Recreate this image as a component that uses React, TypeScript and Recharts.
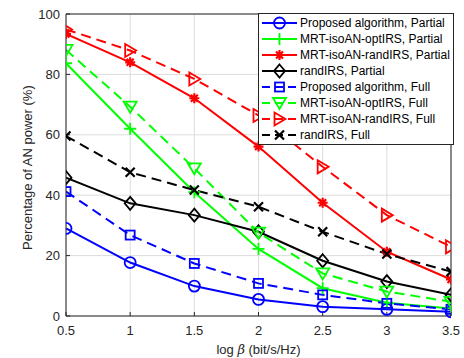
import React from "react";
import { LineChart, Line, XAxis, YAxis, CartesianGrid, ReferenceLine } from "recharts";

const beta = [0.5, 1, 1.5, 2, 2.5, 3, 3.5];
const propPartial = [29.0, 17.7, 9.9, 5.5, 3.1, 2.2, 1.4];
const optPartial = [83.7, 62.0, 41.0, 22.2, 9.2, 4.4, 2.5];
const randPartial = [93.4, 84.0, 72.1, 56.1, 37.5, 21.3, 12.1];
const randIrsPartial = [45.8, 37.3, 33.4, 27.9, 18.3, 11.4, 7.0];
const propFull = [41.2, 26.8, 17.4, 10.8, 7.0, 4.2, 2.2];
const optFull = [88.1, 69.3, 48.9, 27.6, 14.1, 8.1, 4.7];
const randFull = [94.9, 87.9, 78.5, 66.4, 49.4, 33.4, 22.9];
const randIrsFull = [59.6, 47.6, 41.7, 36.2, 27.9, 20.5, 14.7];
const xTicks = [0.5, 1, 1.5, 2, 2.5, 3, 3.5];
const yTicks = [0, 20, 40, 60, 80, 100];

const data = beta.map((b, i) => ({
  b,
  propPartial: propPartial[i],
  optPartial: optPartial[i],
  randPartial: randPartial[i],
  randIrsPartial: randIrsPartial[i],
  propFull: propFull[i],
  optFull: optFull[i],
  randFull: randFull[i],
  randIrsFull: randIrsFull[i],
}));

type MarkerType = "circle" | "plus" | "star" | "diamond" | "square" | "tridown" | "triright" | "x";

const series: { key: string; name: string; color: string; dashed: boolean; marker: MarkerType }[] = [
  { key: "propPartial", name: "Proposed algorithm, Partial", color: "#0000FF", dashed: false, marker: "circle" },
  { key: "optPartial", name: "MRT-isoAN-optIRS, Partial", color: "#00FF00", dashed: false, marker: "plus" },
  { key: "randPartial", name: "MRT-isoAN-randIRS, Partial", color: "#FF0000", dashed: false, marker: "star" },
  { key: "randIrsPartial", name: "randIRS, Partial", color: "#000000", dashed: false, marker: "diamond" },
  { key: "propFull", name: "Proposed algorithm, Full", color: "#0000FF", dashed: true, marker: "square" },
  { key: "optFull", name: "MRT-isoAN-optIRS, Full", color: "#00FF00", dashed: true, marker: "tridown" },
  { key: "randFull", name: "MRT-isoAN-randIRS, Full", color: "#FF0000", dashed: true, marker: "triright" },
  { key: "randIrsFull", name: "randIRS, Full", color: "#000000", dashed: true, marker: "x" },
];

function Marker({ cx, cy, type, color }: { cx: number; cy: number; type: MarkerType; color: string }) {
  const sw = 1.8;
  const common = { fill: "none", stroke: color, strokeWidth: sw };
  switch (type) {
    case "circle":
      return <circle cx={cx} cy={cy} r={5.5} {...common} />;
    case "plus":
      return <path d={`M${cx - 6},${cy}H${cx + 6}M${cx},${cy - 6}V${cy + 6}`} {...common} />;
    case "star": {
      const r = 5;
      const d = `M${cx - r},${cy}H${cx + r}M${cx},${cy - r}V${cy + r}M${cx - r * 0.7},${cy - r * 0.7}L${cx + r * 0.7},${cy + r * 0.7}M${cx - r * 0.7},${cy + r * 0.7}L${cx + r * 0.7},${cy - r * 0.7}`;
      return <path d={d} {...common} strokeWidth={2.2} />;
    }
    case "diamond":
      return <path d={`M${cx},${cy - 6.5}L${cx + 5.5},${cy}L${cx},${cy + 6.5}L${cx - 5.5},${cy}Z`} {...common} />;
    case "square":
      return <rect x={cx - 4.5} y={cy - 4.5} width={9} height={9} {...common} />;
    case "tridown":
      return <path d={`M${cx - 6.5},${cy - 5}L${cx + 6.5},${cy - 5}L${cx},${cy + 6}Z`} {...common} />;
    case "triright":
      return <path d={`M${cx - 5},${cy - 6.5}L${cx + 6},${cy}L${cx - 5},${cy + 6.5}Z`} {...common} />;
    case "x":
      return <path d={`M${cx - 4.5},${cy - 4.5}L${cx + 4.5},${cy + 4.5}M${cx - 4.5},${cy + 4.5}L${cx + 4.5},${cy - 4.5}`} {...common} strokeWidth={2.2} />;
  }
  return null;
}

function LegendBox() {
  const rowH = 16;
  const w = 195;
  const h = series.length * rowH + 3;
  return (
    <svg width={w + 2} height={h + 2} style={{ display: "block" }}>
      <rect x={0.5} y={0.5} width={w} height={h} fill="#fff" stroke="#262626" strokeWidth={1} />
      {series.map((s, i) => {
        const y = 10 + i * rowH;
        return (
          <g key={s.key}>
            <line x1={4} x2={39} y1={y} y2={y} stroke={s.color} strokeWidth={2} strokeDasharray={s.dashed ? "8 5" : undefined} />
            <Marker cx={21.5} cy={y} type={s.marker} color={s.color} />
            <text x={42} y={y + 4} fontSize={12} fontFamily="Liberation Sans, Arial, sans-serif" fill="#000">
              {s.name}
            </text>
          </g>
        );
      })}
    </svg>
  );
}

function XLabel({ viewBox }: any) {
  const cx = viewBox.x + viewBox.width / 2;
  return (
    <text x={cx} y={354} textAnchor="middle" fontSize={13} fontFamily="Liberation Sans, Arial, sans-serif" fill="#262626">
      log <tspan fontStyle="italic" fontFamily="DejaVu Serif, serif">β</tspan> (bit/s/Hz)
    </text>
  );
}

export default function App() {
  const font = "Liberation Sans, Arial, sans-serif";
  return (
    <div style={{ position: "absolute", left: 0, top: 0, width: 464, height: 358, background: "#fff" }}>
      <LineChart width={464} height={358} data={data} margin={{ top: 14, right: 13, left: 0, bottom: 0 }}>
        <CartesianGrid stroke="#dcdcdc" strokeWidth={1} />
        <XAxis
          dataKey="b"
          type="number"
          domain={[0.5, 3.5]}
          ticks={xTicks}
          height={42}
          stroke="#262626"
          tickSize={-4}
          tick={{ fill: "#262626", fontSize: 13, fontFamily: font }}
          tickMargin={14}
          label={<XLabel />}
          allowDataOverflow
        />
        <YAxis
          type="number"
          domain={[0, 100]}
          ticks={yTicks}
          width={66}
          stroke="#262626"
          tickSize={-4}
          tick={{ fill: "#262626", fontSize: 13, fontFamily: font }}
          tickMargin={10}
          label={{ value: "Percentage of AN power (%)", angle: -90, position: "insideLeft", offset: 27, dy: 85, fill: "#262626", fontSize: 13, fontFamily: font }}
        />
        <ReferenceLine y={100} stroke="#262626" strokeWidth={1} />
        <ReferenceLine x={3.5} stroke="#262626" strokeWidth={1} />
        {series.map((s) => (
          <Line
            key={s.key}
            dataKey={s.key}
            name={s.name}
            type="linear"
            stroke={s.color}
            strokeWidth={2}
            strokeDasharray={s.dashed ? "10 6" : undefined}
            isAnimationActive={false}
            dot={(p: any) => <Marker key={`${s.key}-${p.index}`} cx={p.cx} cy={p.cy} type={s.marker} color={s.color} />}
            activeDot={false}
          />
        ))}
      </LineChart>
      <div style={{ position: "absolute", left: 258, top: 13 }}>
        <LegendBox />
      </div>
    </div>
  );
}
